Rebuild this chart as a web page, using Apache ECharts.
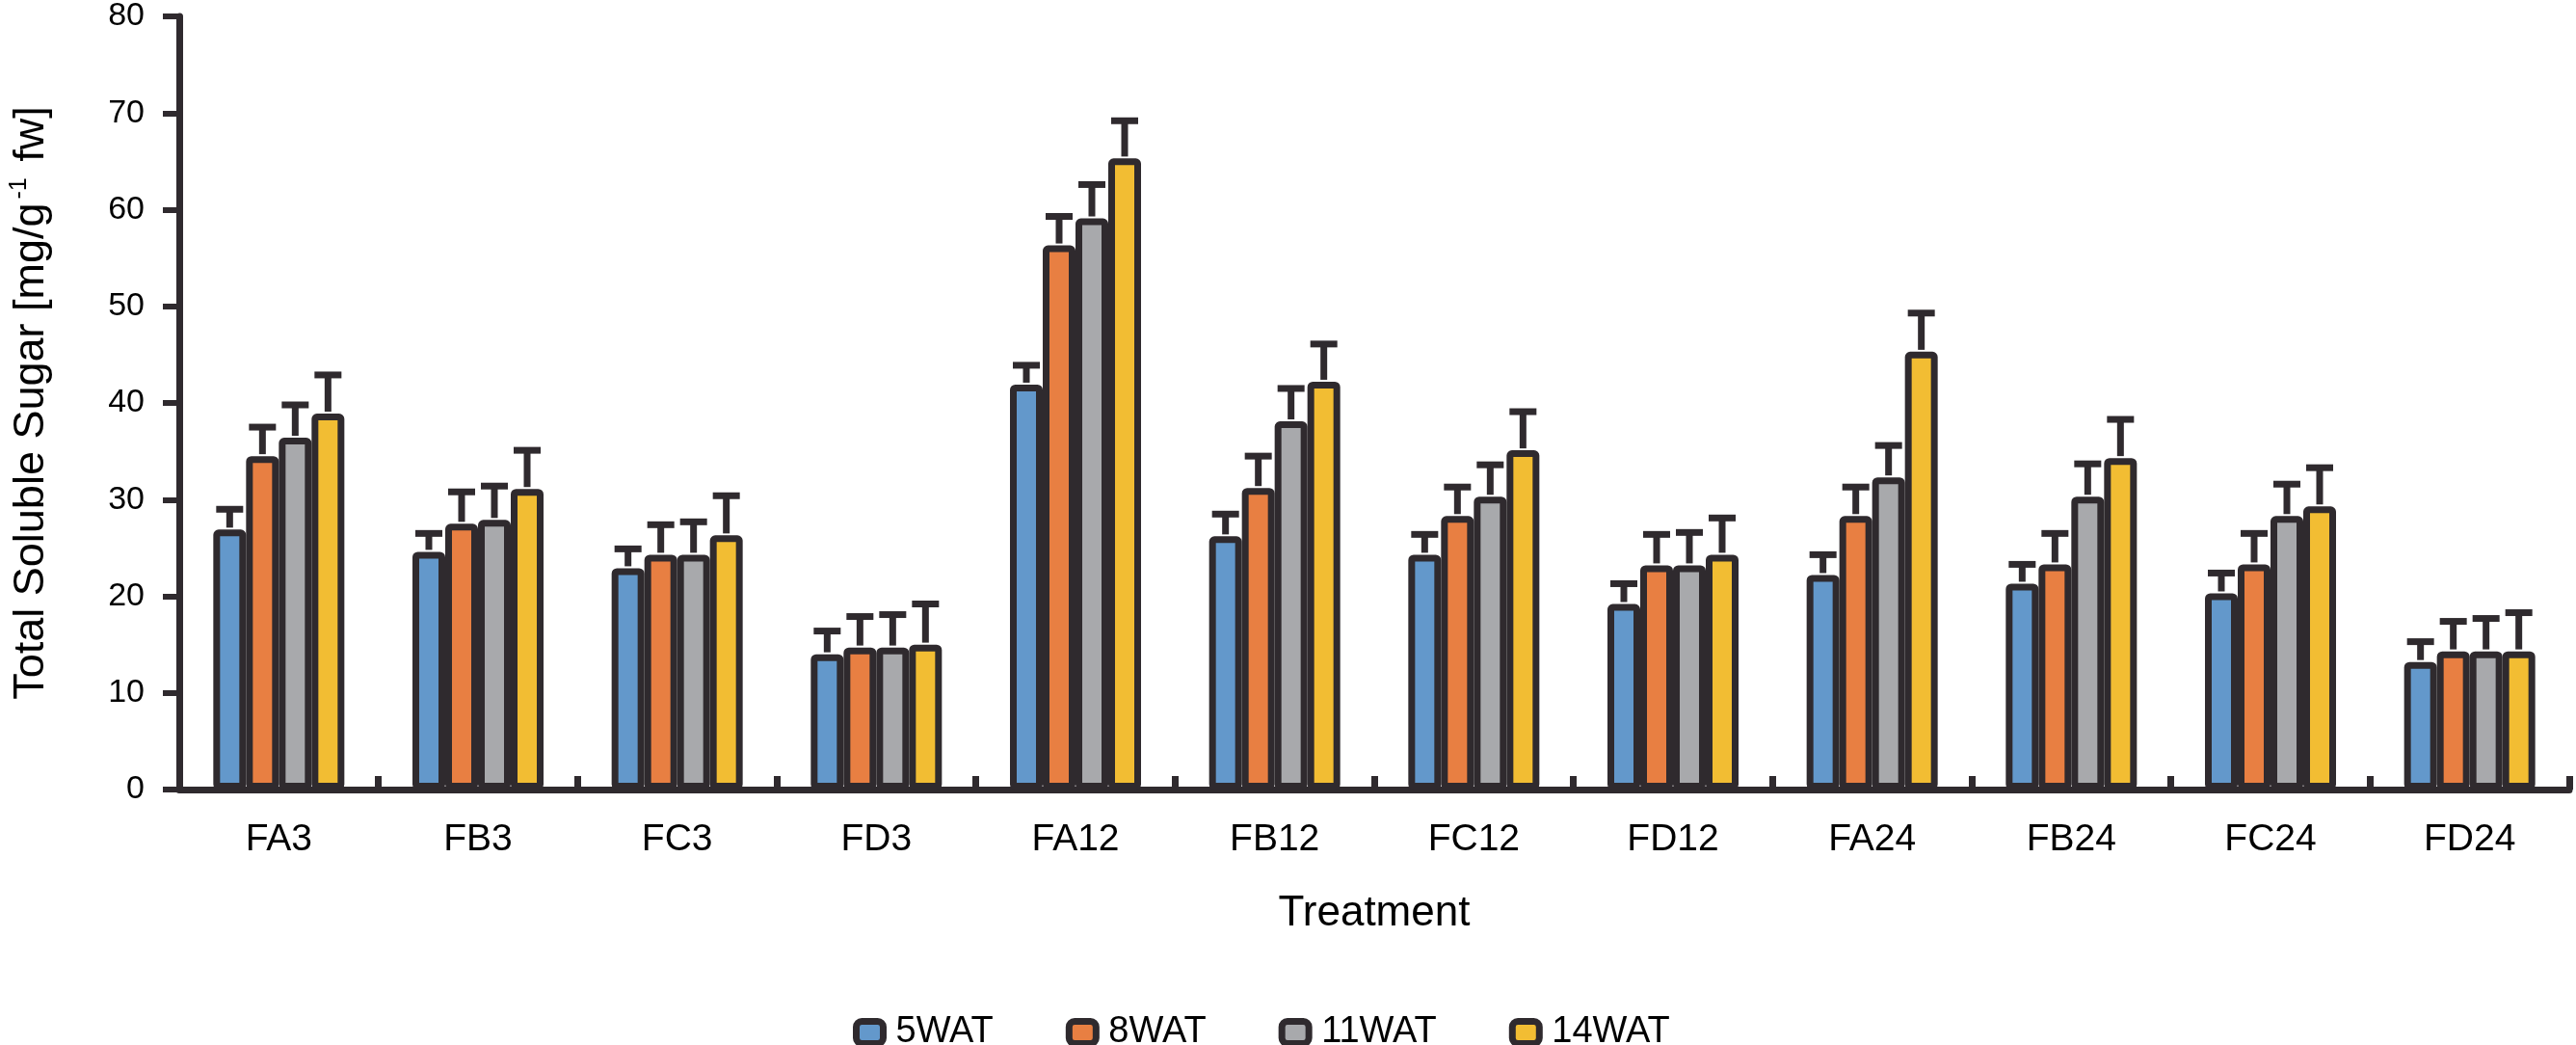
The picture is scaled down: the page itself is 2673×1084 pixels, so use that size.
<!DOCTYPE html>
<html>
<head>
<meta charset="utf-8">
<script src="https://cdn.jsdelivr.net/npm/echarts@6/dist/echarts.min.js"></script>
<style>
html,body{margin:0;padding:0;background:#fff;}
#chart{width:2673px;height:1084px;}
</style>
</head>
<body>
<div id="chart"></div>
<script>
const categories = ['FA3','FB3','FC3','FD3','FA12','FB12','FC12','FD12','FA24','FB24','FC24','FD24'];
const seriesNames = ['5WAT','8WAT','11WAT','14WAT'];
const v5WAT  = [26.9, 24.6, 22.9, 14.0, 41.9, 26.2, 24.3, 19.2, 22.2, 21.3, 20.3, 13.2];
const v8WAT  = [34.5, 27.5, 24.3, 14.7, 56.3, 31.2, 28.3, 23.2, 28.3, 23.3, 23.3, 14.3];
const v11WAT = [36.4, 27.9, 24.3, 14.7, 59.1, 38.1, 30.3, 23.2, 32.3, 30.3, 28.3, 14.3];
const v14WAT = [38.9, 31.1, 26.3, 15.0, 65.3, 42.2, 35.1, 24.3, 45.3, 34.3, 29.3, 14.3];
const e5WAT  = [2.1, 1.9, 2.0, 2.4, 2.0, 2.3, 2.1, 2.1, 2.1, 2.0, 2.1, 2.1];
const e8WAT  = [3.0, 3.3, 3.1, 3.2, 3.0, 3.3, 3.0, 3.2, 3.0, 3.2, 3.2, 3.1];
const e11WAT = [3.4, 3.5, 3.4, 3.4, 3.5, 3.4, 3.3, 3.4, 3.3, 3.4, 3.3, 3.4];
const e14WAT = [4.0, 4.0, 4.1, 4.2, 3.9, 3.9, 4.0, 3.8, 4.0, 4.0, 4.0, 4.0];
const yTicks = [0, 10, 20, 30, 40, 50, 60, 70, 80];

const values = [v5WAT, v8WAT, v11WAT, v14WAT];
const errors = [e5WAT, e8WAT, e11WAT, e14WAT];
const colors = ['#6398cb', '#e87f42', '#a8a9ac', '#f2bd33'];
const dark = '#2f2a2e';
const FONT = '"Liberation Sans", Arial, Helvetica, sans-serif';
const BAR_W = 34;

const chart = echarts.init(document.getElementById('chart'), null, {renderer: 'canvas'});

const series = [];
seriesNames.forEach((name, i) => {
  series.push({
    name: name,
    type: 'bar',
    data: values[i],
    barWidth: BAR_W,
    barGap: '0%',
    z: 2,
    itemStyle: {
      color: colors[i],
      borderColor: dark,
      borderWidth: 7,
      borderRadius: 2,
      borderJoin: 'round'
    },
    emphasis: {disabled: true}
  });
});
seriesNames.forEach((name, i) => {
  const offset = (i - 1.5) * BAR_W;
  series.push({
    name: name + ' error',
    type: 'custom',
    z: 3,
    silent: true,
    data: values[i].map((v, k) => [k, v, errors[i][k]]),
    renderItem: function (params, api) {
      const base = api.coord([api.value(0), api.value(1)]);
      const top = api.coord([api.value(0), api.value(1) + api.value(2)]);
      const x = base[0] + offset;
      const style = {stroke: dark, lineWidth: 7, fill: null};
      return {
        type: 'group',
        children: [
          {type: 'line', shape: {x1: x, y1: base[1] - 2, x2: x, y2: top[1]}, style: style},
          {type: 'line', shape: {x1: x - 14, y1: top[1], x2: x + 14, y2: top[1]}, style: style}
        ]
      };
    }
  });
});

chart.setOption({
  animation: false,
  backgroundColor: '#ffffff',
  textStyle: {fontFamily: FONT, color: '#000'},
  grid: {left: 180, right: 7, top: 10, bottom: 265, containLabel: false},
  legend: {
    data: seriesNames,
    left: 880,
    top: 1047,
    itemGap: 75,
    itemWidth: 28,
    itemHeight: 23,
    icon: 'roundRect',
    itemStyle: {borderColor: dark, borderWidth: 7},
    textStyle: {fontFamily: FONT, fontSize: 38, color: '#000', padding: [0, 0, 0, 8]},
    selectedMode: false
  },
  xAxis: {
    type: 'category',
    data: categories,
    boundaryGap: true,
    name: 'Treatment',
    nameLocation: 'middle',
    nameGap: 107,
    nameTextStyle: {fontFamily: FONT, fontSize: 44, color: '#000'},
    axisLine: {show: true, lineStyle: {color: dark, width: 7}},
    axisTick: {show: true, inside: true, length: 14, alignWithLabel: false, lineStyle: {color: dark, width: 7}},
    axisLabel: {fontFamily: FONT, fontSize: 39, color: '#000', margin: 33},
    splitLine: {show: false}
  },
  yAxis: {
    type: 'value',
    min: yTicks[0],
    max: yTicks[yTicks.length - 1],
    interval: 10,
    name: '{a|Total Soluble Sugar [mg/g}{s|-1}{a| fw]}',
    nameLocation: 'middle',
    nameGap: 128,
    nameRotate: 90,
    nameTextStyle: {
      fontFamily: FONT,
      rich: {
        a: {fontFamily: FONT, fontSize: 45, color: '#000', lineHeight: 50},
        s: {fontFamily: FONT, fontSize: 25, color: '#000', verticalAlign: 'top', lineHeight: 26, padding: [0, 4, 0, 4]}
      }
    },
    axisLine: {show: true, lineStyle: {color: dark, width: 7}},
    axisTick: {show: true, inside: false, length: 17, lineStyle: {color: dark, width: 6}},
    axisLabel: {fontFamily: FONT, fontSize: 34, color: '#000', margin: 36},
    splitLine: {show: false}
  },
  series: series
});
</script>
</body>
</html>
